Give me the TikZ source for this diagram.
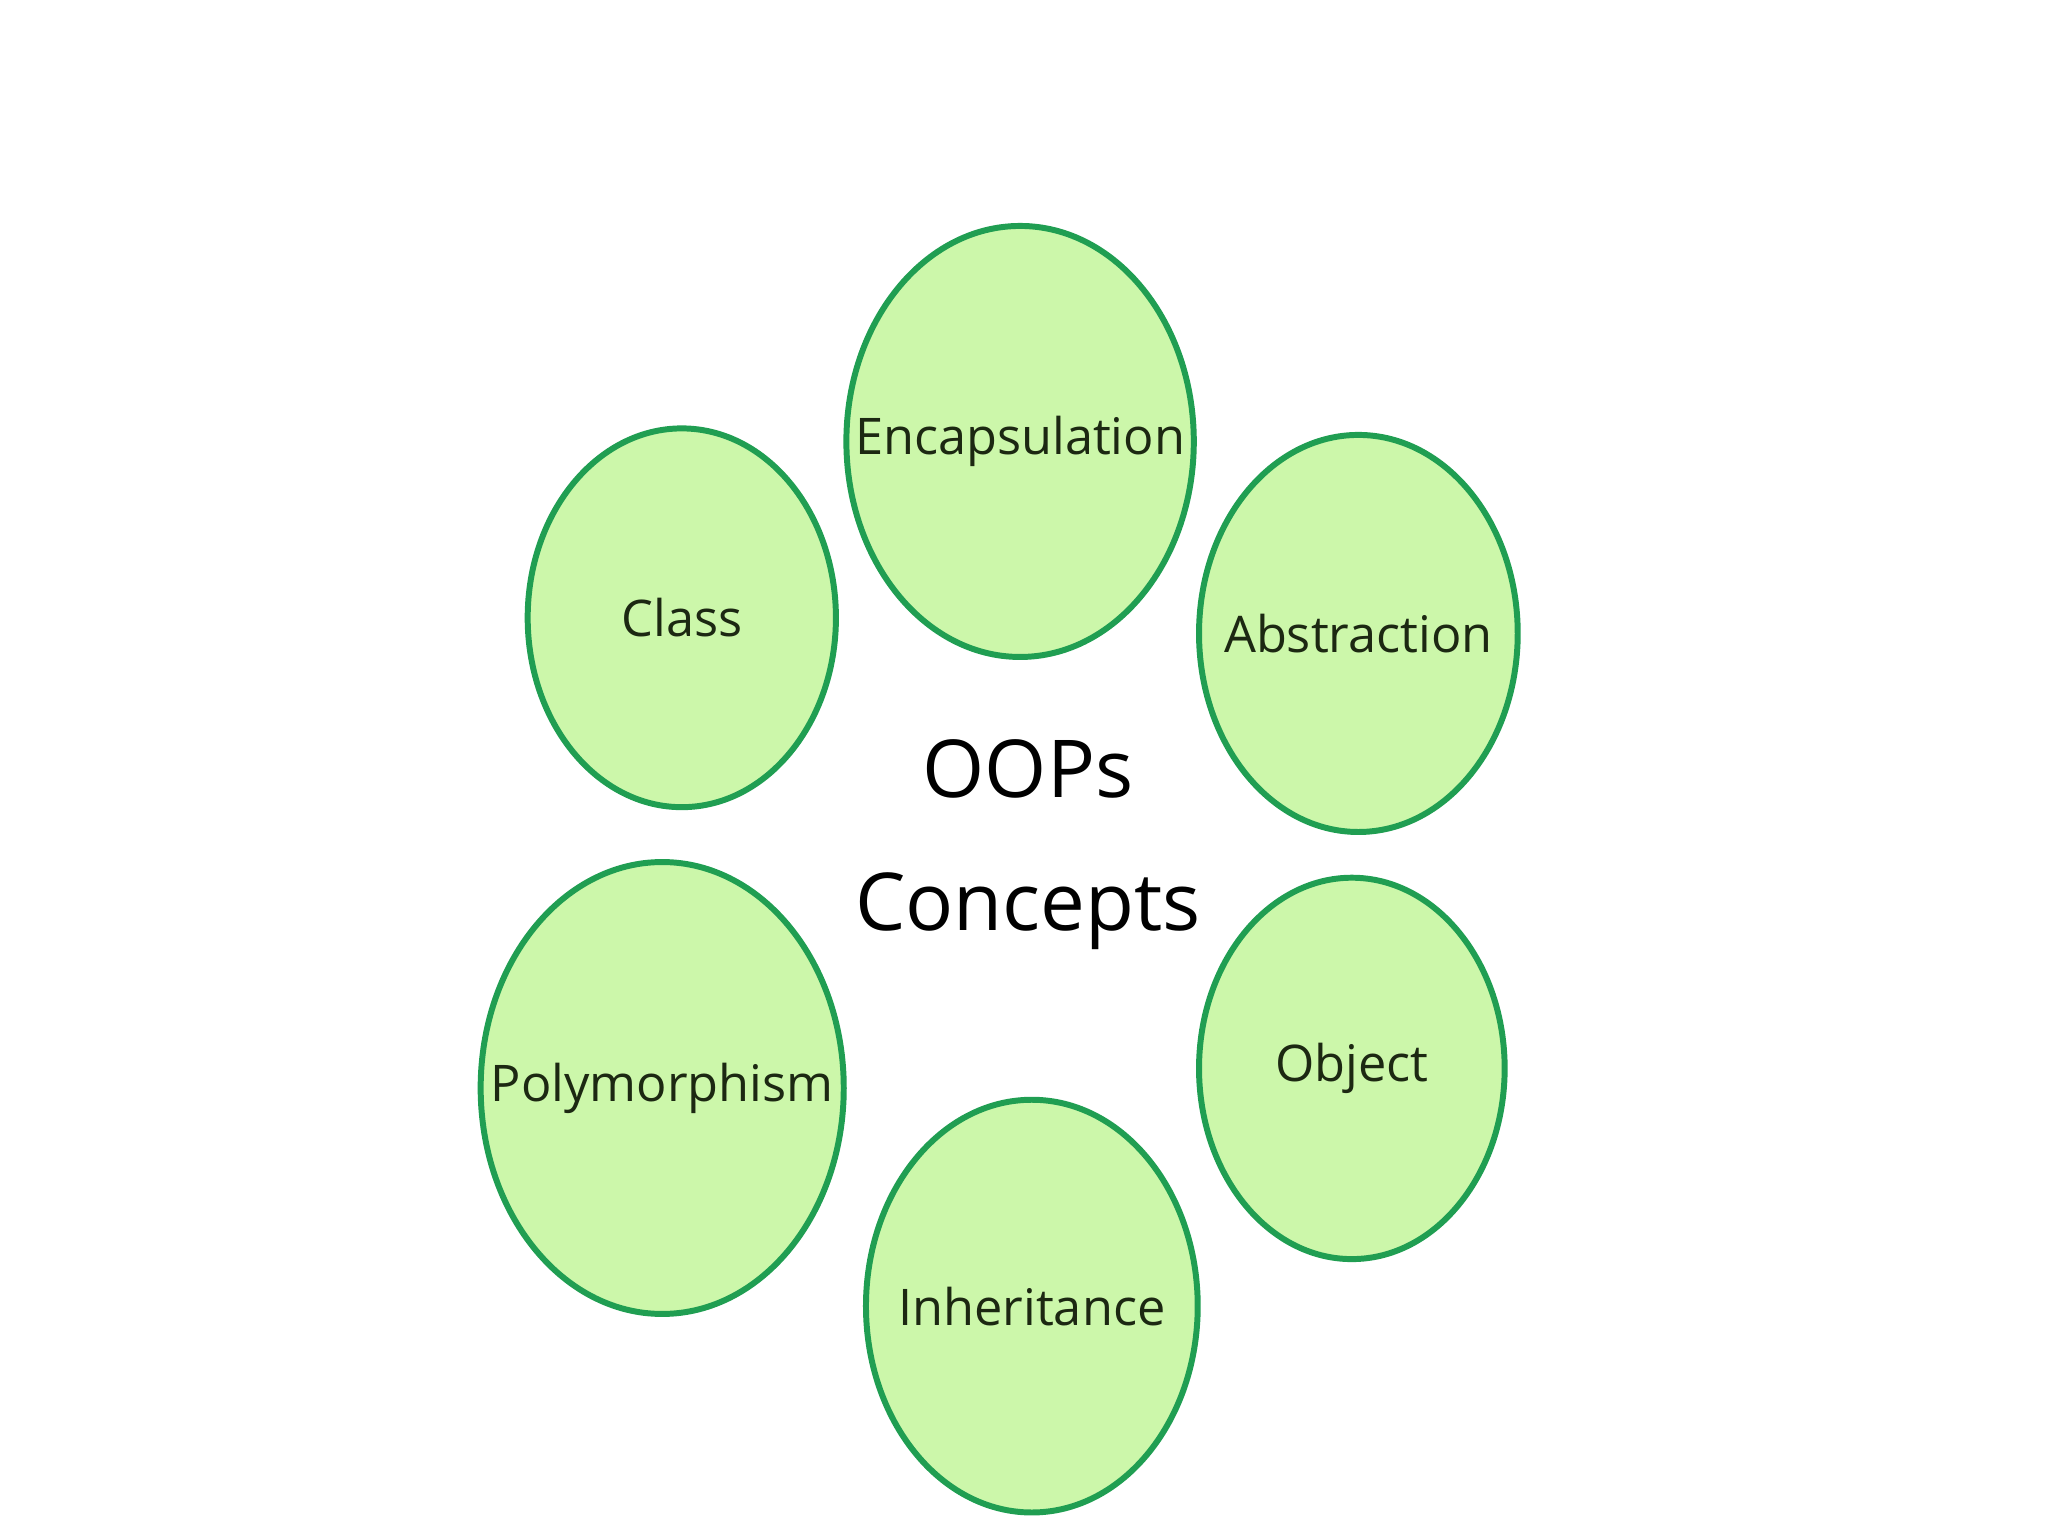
\documentclass[tikz,border=0pt]{standalone}
\usepackage{fontspec}
\setmainfont{Open Sans}
\usepackage{tikz}
\usetikzlibrary{shapes.geometric}
\definecolor{conceptfill}{RGB}{204,247,170}
\definecolor{conceptline}{RGB}{32,158,82}
\definecolor{concepttext}{RGB}{28,40,18}

\begin{document}
\begin{tikzpicture}[line join=round,
  concept/.style={ellipse,draw=conceptline,fill=conceptfill,line width=1.3pt,inner sep=0pt},
  conceptname/.style={text=concepttext,font=\fontsize{11}{13}\selectfont,inner sep=0pt}]
  % page frame (shown reference: 1568 x 1176 px, 1cm = 100px)
  \useasboundingbox (0,0) rectangle (15.68,-11.76);
  % the six concepts round the middle
  \node[concept,minimum width=2.66cm,minimum height=3.30cm,
        label={[conceptname]center:Encapsulation}] (encap) at (7.81,-3.38) {};
  \node[concept,minimum width=2.36cm,minimum height=2.90cm,
        label={[conceptname]center:Class}] (class) at (5.22,-4.73) {};
  \node[concept,minimum width=2.44cm,minimum height=3.04cm,
        label={[conceptname]center:Abstraction}] (abstr) at (10.40,-4.85) {};
  \node[concept,minimum width=2.78cm,minimum height=3.46cm,
        label={[conceptname]center:Polymorphism}] (poly) at (5.07,-8.33) {};
  \node[concept,minimum width=2.34cm,minimum height=2.92cm,
        label={[conceptname]center:Object}] (obj) at (10.35,-8.18) {};
  \node[concept,minimum width=2.54cm,minimum height=3.16cm,
        label={[conceptname]center:Inheritance}] (inher) at (7.90,-10.00) {};
  % title in the middle
  \node[align=center,font=\fontsize{17.4}{29}\selectfont] (oops) at (7.87,-6.47) {OOPs\\Concepts};
\end{tikzpicture}
\end{document}
